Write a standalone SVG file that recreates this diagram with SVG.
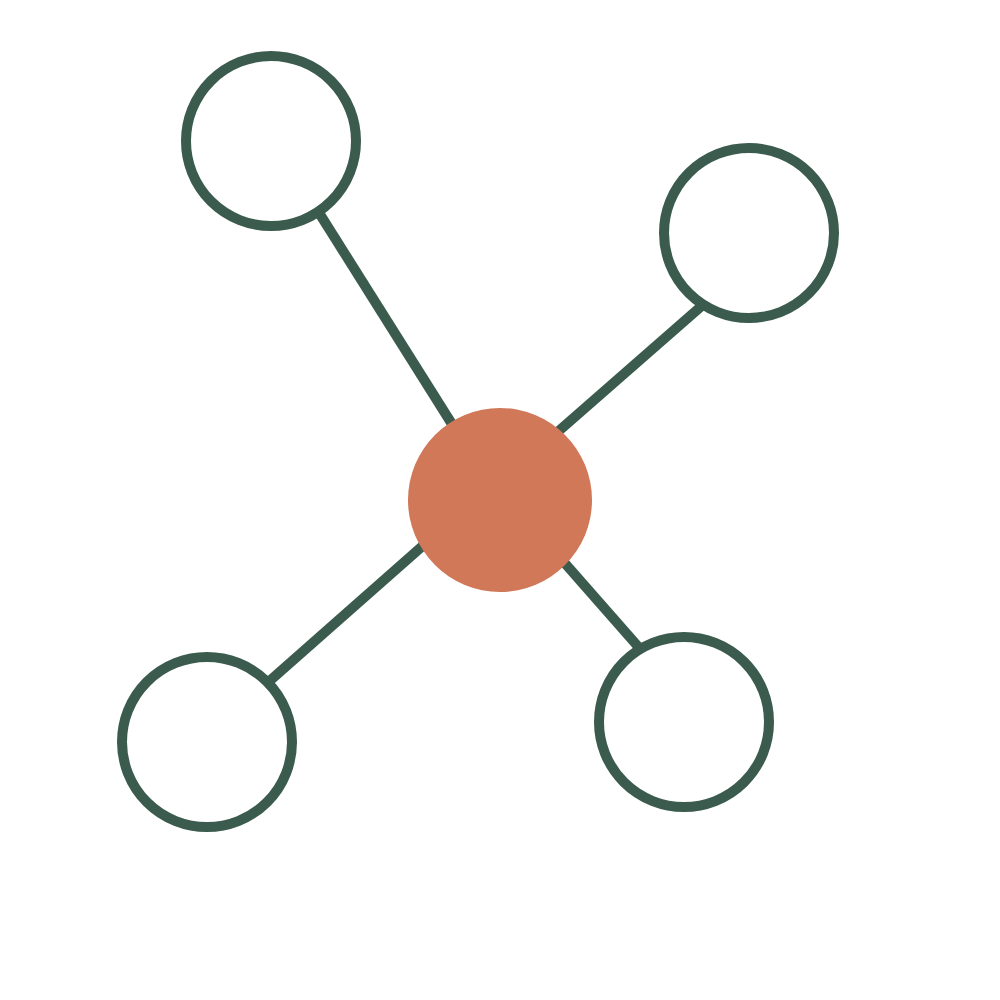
<svg xmlns="http://www.w3.org/2000/svg" width="1000" height="1000" viewBox="0 0 1000 1000">
<style>
.edge{stroke:#3B5B4F;stroke-width:10;stroke-linecap:butt;fill:none}
.leaf{fill:#FFFFFF;stroke:#3B5B4F;stroke-width:10}
.hub{fill:#D07858}
</style>
<rect width="1000" height="1000" fill="#FFFFFF"/>
<g id="connectors">
<line class="edge" x1="316" y1="208" x2="462" y2="440"/>
<line class="edge" x1="705" y1="303" x2="545" y2="443"/>
<line class="edge" x1="265" y1="685" x2="435" y2="535"/>
<line class="edge" x1="642" y1="651" x2="555" y2="552"/>
</g>
<g id="node-top-left"><circle class="leaf" cx="271" cy="141" r="85"/></g>
<g id="node-top-right"><circle class="leaf" cx="749" cy="233" r="85"/></g>
<g id="node-bottom-left"><circle class="leaf" cx="207" cy="742" r="85"/></g>
<g id="node-bottom-right"><circle class="leaf" cx="684" cy="722" r="85"/></g>
<g id="node-center"><circle class="hub" cx="500" cy="500" r="92"/></g>
</svg>
